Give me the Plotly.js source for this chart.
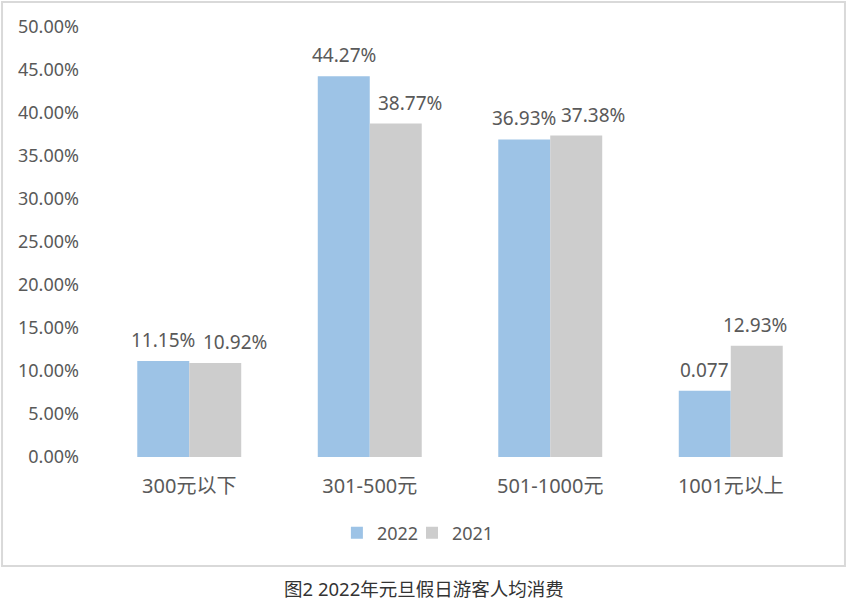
<!DOCTYPE html>
<html><head><meta charset="utf-8">
<script src="https://cdn.plot.ly/plotly-3.0.1.min.js"></script>
<style>html,body{margin:0;padding:0;background:#fff;}#chart{width:848px;height:602px;}</style>
</head><body><div id="chart"></div>
<script>
const categories = ["300元以下", "301-500元", "501-1000元", "1001元以上"];
const values2022 = [11.15, 44.27, 36.93, 7.7];
const values2021 = [10.92, 38.77, 37.38, 12.93];
const labels2022 = ["11.15%", "44.27%", "36.93%", "0.077"];
const labels2021 = ["10.92%", "38.77%", "37.38%", "12.93%"];
const yTickVals = [0, 5, 10, 15, 20, 25, 30, 35, 40, 45, 50];
const yTickText = ["0.00%", "5.00%", "10.00%", "15.00%", "20.00%", "25.00%", "30.00%", "35.00%", "40.00%", "45.00%", "50.00%"];
const caption = "图2 2022年元旦假日游客人均消费";

// label layout nudges (pixels), as in the source where overlapping labels were moved right
const nudge2021 = [20, 14, 17, -2];

const FONT = "Noto Sans, Noto Sans CJK SC, sans-serif";
const TXT = "#595959";

const traces = [
  {type: "bar", name: "2022", x: categories, y: values2022, legend: "legend",
   marker: {color: "#9DC3E6"}, hoverinfo: "none"},
  {type: "bar", name: "2021", x: categories, y: values2021, legend: "legend2",
   marker: {color: "#CDCDCD"}, hoverinfo: "none"}
];

const labelAnns = [];
categories.forEach((c, i) => {
  labelAnns.push({x: c, y: values2022[i], xref: "x", yref: "y", text: labels2022[i], showarrow: false,
    xanchor: "center", yanchor: "middle", xshift: -26, yshift: 21, font: {size: 19, color: TXT, family: FONT}});
  labelAnns.push({x: c, y: values2021[i], xref: "x", yref: "y", text: labels2021[i], showarrow: false,
    xanchor: "center", yanchor: "middle", xshift: 26 + nudge2021[i], yshift: 21, font: {size: 19, color: TXT, family: FONT}});
});

const legendBase = {orientation: "h", xanchor: "left", y: -0.177, yanchor: "middle",
  font: {size: 18, color: TXT}, itemwidth: 30, bgcolor: "rgba(0,0,0,0)"};

const layout = {
  width: 848, height: 602,
  margin: {l: 99, r: 27, t: 27, b: 145},
  paper_bgcolor: "#fff", plot_bgcolor: "#fff",
  font: {family: FONT, color: TXT, size: 18},
  barmode: "group", bargap: 0.424, bargroupgap: 0,
  showlegend: true,
  legend: Object.assign({}, legendBase, {x: 0.3295}),
  legend2: Object.assign({}, legendBase, {x: 0.4335}),
  xaxis: {showline: false, showgrid: false, zeroline: false, ticks: "",
          tickfont: {size: 20, color: TXT}, ticklabelstandoff: 15},
  yaxis: {range: [0, 50], tickvals: yTickVals, ticktext: yTickText, showgrid: false,
          zeroline: false, showline: false, ticks: "", tickfont: {size: 18, color: TXT},
          ticklabelstandoff: 19},
  shapes: [{type: "rect", xref: "paper", yref: "paper", x0: -0.1343, x1: 1.0332,
            y0: -0.2535, y1: 1.0581, line: {color: "#D9D9D9", width: 2}, fillcolor: "rgba(0,0,0,0)"}],
  annotations: labelAnns.concat([{xref: "paper", yref: "paper", x: 0.45, y: -0.3047, xanchor: "center", yanchor: "middle",
                 text: caption, showarrow: false, font: {size: 18.5, color: "#333333", family: FONT}}])
};

Plotly.newPlot("chart", traces, layout, {displayModeBar: false, staticPlot: true});
</script></body></html>
